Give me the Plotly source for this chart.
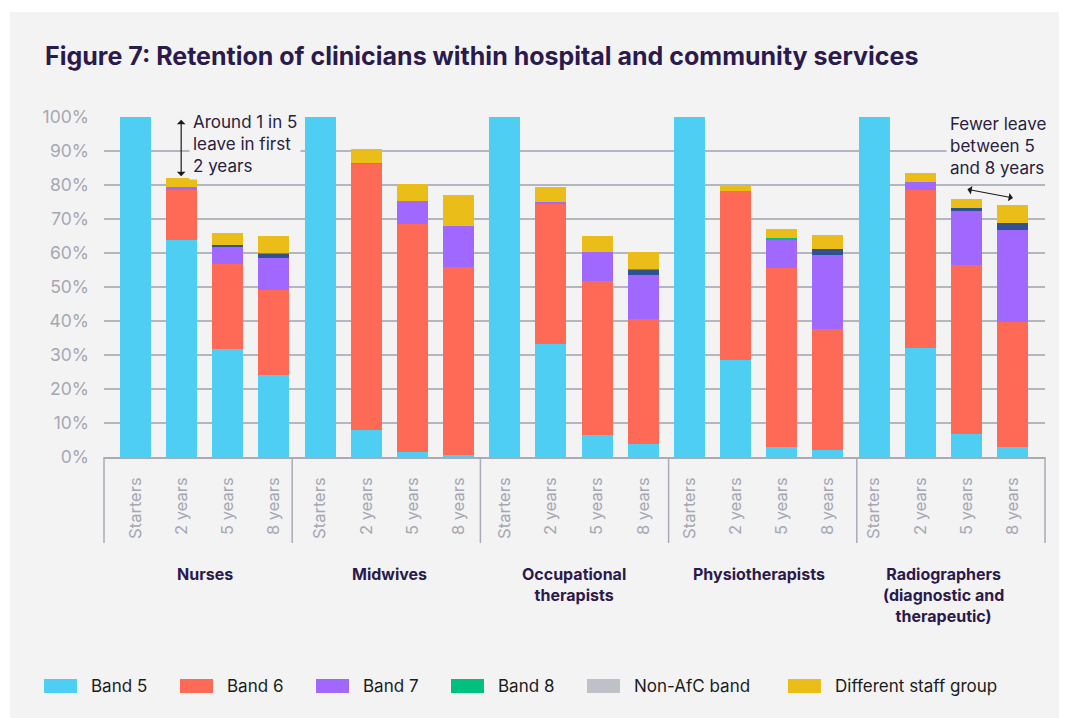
import plotly.graph_objects as go

# ---------------- data ----------------
groups = ["Nurses", "Midwives", "Occupational<br>therapists", "Physiotherapists",
          "Radiographers<br>(diagnostic and<br>therapeutic)"]
periods = ["Starters", "2 years", "5 years", "8 years"]

# values in % of starters, per group x period (20 bars), bottom -> top
band5 = [100, 63.8, 31.8, 24.1,
         100, 8.0, 1.6, 0.7,
         100, 33.2, 6.5, 3.9,
         100, 28.6, 2.9, 2.2,
         100, 32.2, 6.9, 2.9]
band6 = [0, 14.8, 25.1, 25.1,
         0, 78.3, 67.0, 55.2,
         0, 41.3, 45.3, 36.7,
         0, 49.6, 52.8, 35.4,
         0, 46.4, 49.6, 36.9]
band7 = [0, 0.8, 5.0, 9.3,
         0, 0.3, 6.7, 12.0,
         0, 0.6, 8.5, 12.9,
         0, 0.0, 8.4, 21.8,
         0, 2.3, 15.9, 27.0]
band8_navy = [0, 0, 0.5, 1.3,
              0, 0, 0, 0,
              0, 0, 0, 1.5,
              0, 0, 0, 1.8,
              0, 0, 0.8, 2.0]
band8_green = [0, 0, 0, 0.3,
               0, 0, 0, 0,
               0, 0, 0, 0.3,
               0, 0, 0.4, 0,
               0, 0, 0, 0]
non_afc = [0] * 20
diff_group = [0, 2.7, 3.5, 4.9,
              0, 4.0, 5.0, 9.2,
              0, 4.3, 4.7, 5.0,
              0, 1.6, 2.6, 4.1,
              0, 2.6, 2.7, 5.3]

y_ticks = list(range(0, 101, 10))
y_tick_text = [f"{v}%" for v in y_ticks]

legend_names = ["Band 5", "Band 6", "Band 7", "Band 8", "Non-AfC band", "Different staff group"]
colors = {
    "Band 5": "#4fcef4",
    "Band 6": "#ff6a56",
    "Band 7": "#a068fe",
    "Band 8": "#00c07e",
    "Non-AfC band": "#bfc1c8",
    "Different staff group": "#eabd18",
    "navy": "#2f5292",
}

# ---------------- layout geometry ----------------
# page body adds an 8px margin; positions below are given in window pixels
OFF = 8
W, H = 1067 - OFF, 718 - OFF
ML, MR, MT, MB = 104 - OFF, 22, 117 - OFF, 261
PW = W - ML - MR
PH = H - MT - MB


def px2x(px):
    return (px - OFF - ML) / PW


def px2y(py):
    return (H - MB - (py - OFF)) / PH


x_pos = [g * 4 + p for g in range(len(groups)) for p in range(len(periods))]
x_text = [periods[p] for g in range(len(groups)) for p in range(len(periods))]

TITLE_C = "#2b1a4b"
GRID_C = "#b3b5bf"
TICK_C = "#a5a7b4"
FONT = "Inter"

fig = go.Figure()
series = [
    ("Band 5", band5, colors["Band 5"]),
    ("Band 6", band6, colors["Band 6"]),
    ("Band 7", band7, colors["Band 7"]),
    ("Band 8 (navy)", band8_navy, colors["navy"]),
    ("Band 8", band8_green, colors["Band 8"]),
    ("Non-AfC band", non_afc, colors["Non-AfC band"]),
    ("Different staff group", diff_group, colors["Different staff group"]),
]
for name, vals, col in series:
    fig.add_trace(go.Bar(x=x_pos, y=vals, name=name, marker=dict(color=col, line=dict(width=0)),
                         showlegend=False))

shapes = []
annotations = []

# background panel
shapes.append(dict(type="rect", xref="paper", yref="paper", x0=px2x(10), x1=px2x(1090),
                   y0=px2y(740), y1=px2y(12), fillcolor="#f3f3f3", line=dict(width=0),
                   layer="below"))

# group separators under the axis
for b in range(len(groups) + 1):
    xb = px2x(104 + 188.2 * b)
    shapes.append(dict(type="line", xref="paper", yref="paper", x0=xb, x1=xb,
                       y0=0, y1=px2y(543), line=dict(color="#a9abb6", width=1.5)))

# group labels
for g, name in enumerate(groups):
    annotations.append(dict(x=g * 4 + 1.5, xref="x", y=px2y(562), yref="paper",
                            text=f"<b>{name}</b>", showarrow=False, xanchor="center",
                            yanchor="top", align="center",
                            font=dict(family=FONT, size=16, color=TITLE_C)))

# title
annotations.append(dict(x=px2x(43), y=px2y(56), xref="paper", yref="paper",
                        text="<b>Figure 7: Retention of clinicians within hospital and community services</b>",
                        showarrow=False, xanchor="left", yanchor="middle",
                        font=dict(family=FONT, size=25, color=TITLE_C)))

# callouts
ANN_C = "#2a2140"
annotations.append(dict(x=px2x(189), y=px2y(108), xref="paper", yref="paper",
                        text="Around 1 in 5<br>leave in first<br>2 years", showarrow=False,
                        xanchor="left", yanchor="top", align="left", bgcolor="#f3f3f3",
                        borderpad=3, font=dict(family=FONT, size=17, color=ANN_C)))
annotations.append(dict(x=0.99, y=82.6, xref="x", yref="y", ax=0.99, ay=99.6,
                        axref="x", ayref="y", text="", showarrow=True, arrowhead=1,
                        arrowside="end+start", arrowsize=1.2, arrowwidth=1.2,
                        arrowcolor="#1b1b1b"))
annotations.append(dict(x=px2x(946), y=px2y(110), xref="paper", yref="paper",
                        text="Fewer leave<br>between 5<br>and 8 years", showarrow=False,
                        xanchor="left", yanchor="top", align="left", bgcolor="#f3f3f3",
                        borderpad=3, font=dict(family=FONT, size=17, color=ANN_C)))
annotations.append(dict(x=19.01, y=76.2, xref="x", yref="y", ax=17.99, ay=78.8,
                        axref="x", ayref="y", text="", showarrow=True, arrowhead=1,
                        arrowside="end+start", arrowsize=1.2, arrowwidth=1.2,
                        arrowcolor="#1b1b1b"))

# custom legend
leg_x = [44, 180, 316, 451, 587, 788]
for name, lx in zip(legend_names, leg_x):
    shapes.append(dict(type="rect", xref="paper", yref="paper", x0=px2x(lx), x1=px2x(lx + 33),
                       y0=px2y(693), y1=px2y(679), fillcolor=colors[name],
                       line=dict(width=0)))
    annotations.append(dict(x=px2x(lx + 45), y=px2y(686), xref="paper", yref="paper",
                            text=name, showarrow=False, xanchor="left", yanchor="middle",
                            font=dict(family=FONT, size=17, color="#1c1c1c")))

fig.update_layout(
    width=W, height=H,
    margin=dict(l=ML, r=MR, t=MT, b=MB, autoexpand=False),
    paper_bgcolor="white",
    plot_bgcolor="rgba(0,0,0,0)",
    barmode="stack",
    bargap=0.328,
    showlegend=False,
    font=dict(family=FONT),
    shapes=shapes,
    annotations=annotations,
    xaxis=dict(tickmode="array", tickvals=x_pos, ticktext=x_text, tickangle=-90,
               range=[-0.682, 19.704], showgrid=False, zeroline=False, showline=True,
               linecolor="#a9abb6", linewidth=1.5, ticks="", ticklabelstandoff=12,
               tickfont=dict(family=FONT, size=16.5, color=TICK_C)),
    yaxis=dict(tickmode="array", tickvals=y_ticks, ticktext=y_tick_text, range=[0, 100],
               showgrid=True, gridcolor=GRID_C, gridwidth=1.5, zeroline=False,
               showline=False, ticks="", ticklabelstandoff=14,
               tickfont=dict(family=FONT, size=17.5, color=TICK_C)),
)

fig.write_html("out.html")
